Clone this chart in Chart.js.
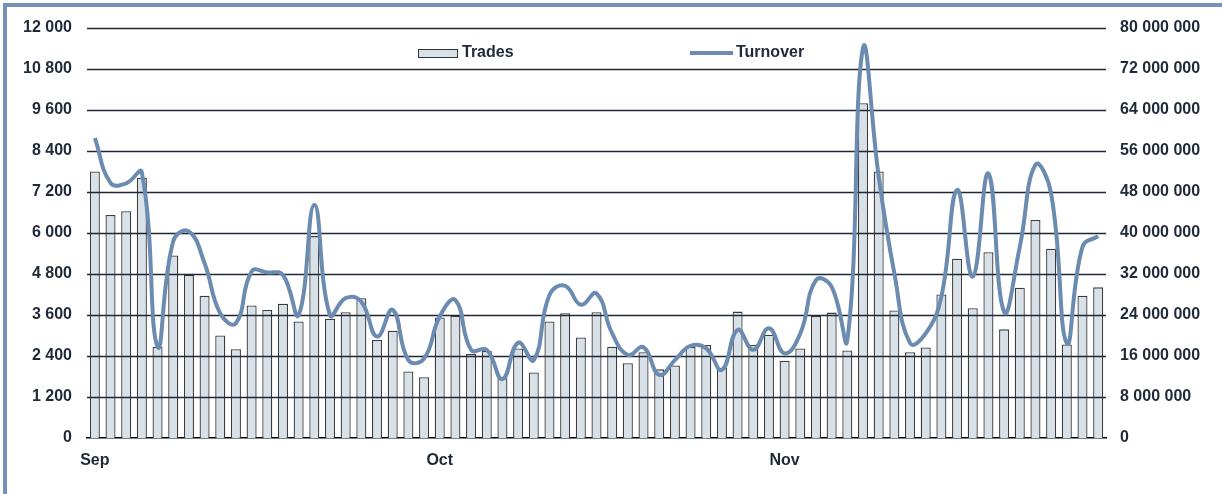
<!DOCTYPE html>
<html>
<head>
<meta charset="utf-8">
<script src="https://cdn.jsdelivr.net/npm/chart.js@4/dist/chart.umd.min.js"></script>
<style>
  html, body { margin: 0; padding: 0; background: #fff; }
  #wrap { position: relative; width: 1222px; height: 494px; overflow: hidden; }
  #frame { position: absolute; left: 3px; top: 3px; right: -10px; bottom: -10px;
           border-left: 4px solid #7390b5; border-top: 4px solid #7390b5; }
  #chart { position: absolute; left: 0; top: 0; }
</style>
</head>
<body>
<div id="wrap">
  <div id="frame"></div>
  <canvas id="chart" width="1222" height="494"></canvas>
</div>
<script>
// trading days Sep - Nov
const monthNames = ['Sep', 'Oct', 'Nov'];
const monthStart = [0, 22, 44];
const dayCount = 65;

const trades = [
  7800, 6530, 6640, 7610, 2670, 5340, 4770, 4160, 3000, 2600,
  3880, 3750, 3930, 3410, 5910, 3490, 3680, 4090, 2870, 3140,
  1950, 1780, 3530, 3580, 2460, 2550, 1750, 2620, 1920, 3410,
  3650, 2940, 3680, 2670, 2190, 2510, 2010, 2120, 2670, 2720,
  2050, 3700, 2720, 3020, 2260, 2620, 3570, 3670, 2560, 9800,
  7800, 3730, 2510, 2650, 4200, 5250, 3800, 5440, 3180, 4400,
  6380, 5540, 2740, 4160, 4410
];

const turnover = [
  58500000, 49800000, 49700000, 51800000, 17800000, 38400000, 40300000, 34100000, 24300000, 22400000,
  32500000, 32300000, 31800000, 24000000, 45500000, 24000000, 27300000, 26600000, 19800000, 25000000,
  15200000, 15500000, 23700000, 26900000, 17200000, 17200000, 11500000, 18600000, 15200000, 27900000,
  29700000, 26000000, 28200000, 20400000, 16200000, 17700000, 12300000, 15200000, 18000000, 17500000,
  13300000, 21100000, 17200000, 21400000, 16500000, 20400000, 30800000, 29500000, 19100000, 76100000,
  51000000, 32100000, 18500000, 20400000, 27600000, 48400000, 31500000, 51600000, 24600000, 37300000,
  53300000, 47700000, 18500000, 37300000, 39400000
];

// category labels: month name on first trading day, blank otherwise
const labels = [];
for (let i = 0; i < dayCount; i++) {
  const m = monthStart.indexOf(i);
  labels.push(m >= 0 ? monthNames[m] : '');
}

const FONT = 'Liberation Sans, Arial, Helvetica, sans-serif';
const TEXT = '#1f2937';
const LINE_COLOR = '#6b8bb1';
const BAR_FILL = '#d9e1e8';

function spaced(v) {
  return String(v).replace(/\B(?=(\d{3})+(?!\d))/g, ' ');
}

// gridlines on top of the bars, under the line
const gridOverBars = {
  id: 'gridOverBars',
  beforeDatasetDraw(chart, args) {
    if (args.index !== 1) return;
    const ctx = chart.ctx;
    const y = chart.scales.y;
    const area = chart.chartArea;
    ctx.save();
    ctx.strokeStyle = '#1e2733';
    ctx.lineWidth = 1.6;
    y.ticks.forEach(t => {
      if (t.value === 0) return;
      const py = Math.round(y.getPixelForValue(t.value)) + 0.5;
      ctx.beginPath();
      ctx.moveTo(area.left, py);
      ctx.lineTo(area.right, py);
      ctx.stroke();
    });
    ctx.restore();
  }
};

// legend drawn inside the plot, as in the original
const innerLegend = {
  id: 'innerLegend',
  afterDraw(chart) {
    const ctx = chart.ctx;
    const a = chart.chartArea;
    const cy = a.top + 25;
    ctx.save();
    ctx.font = 'bold 16px ' + FONT;
    ctx.fillStyle = TEXT;
    ctx.textBaseline = 'middle';
    // Trades
    const bx = a.left + 331;
    ctx.fillStyle = BAR_FILL;
    ctx.fillRect(bx, cy - 4, 40, 8);
    ctx.strokeStyle = '#333';
    ctx.lineWidth = 1;
    ctx.strokeRect(bx + 0.5, cy - 3.5, 39, 8);
    ctx.fillStyle = TEXT;
    ctx.fillText('Trades', bx + 44, cy);
    // Turnover
    const lx = a.left + 603;
    ctx.strokeStyle = LINE_COLOR;
    ctx.lineWidth = 4;
    ctx.beginPath();
    ctx.moveTo(lx, cy);
    ctx.lineTo(lx + 43, cy);
    ctx.stroke();
    ctx.fillText('Turnover', lx + 46, cy);
    ctx.restore();
  }
};

new Chart(document.getElementById('chart'), {
  data: {
    labels: labels,
    datasets: [
      {
        type: 'bar',
        label: 'Trades',
        data: trades,
        yAxisID: 'y',
        backgroundColor: BAR_FILL,
        borderColor: '#3c3c3c',
        borderWidth: 1.3,
        barPercentage: 0.64,
        categoryPercentage: 1,
        order: 2
      },
      {
        type: 'line',
        label: 'Turnover',
        data: turnover,
        yAxisID: 'y2',
        borderColor: LINE_COLOR,
        borderWidth: 4,
        pointRadius: 0,
        tension: 0.45,
        fill: false,
        order: 1
      }
    ]
  },
  options: {
    responsive: false,
    animation: false,
    events: [],
    layout: { padding: { top: 28, bottom: 0, left: 0, right: 0 } },
    plugins: {
      legend: { display: false },
      tooltip: { enabled: false }
    },
    scales: {
      x: {
        grid: { display: false, drawTicks: false },
        border: { display: true, color: '#000', width: 1.5 },
        ticks: {
          autoSkip: false,
          maxRotation: 0,
          padding: 13,
          color: TEXT,
          font: { family: FONT, size: 16, weight: 'bold' }
        },
        afterFit(scale) { scale.height = 56; }
      },
      y: {
        position: 'left',
        min: 0,
        max: 12000,
        grid: { display: false, drawTicks: false },
        border: { display: false },
        ticks: {
          stepSize: 1200,
          padding: 15,
          color: TEXT,
          font: { family: FONT, size: 16, weight: 'bold' },
          callback: v => spaced(v)
        },
        afterFit(scale) { scale.width = 87; }
      },
      y2: {
        position: 'right',
        min: 0,
        max: 80000000,
        grid: { display: false, drawTicks: false },
        border: { display: false },
        ticks: {
          stepSize: 8000000,
          padding: 14,
          color: TEXT,
          font: { family: FONT, size: 16, weight: 'bold' },
          callback: v => spaced(v)
        },
        afterFit(scale) { scale.width = 116; }
      }
    }
  },
  plugins: [gridOverBars, innerLegend]
});
</script>
</body>
</html>
